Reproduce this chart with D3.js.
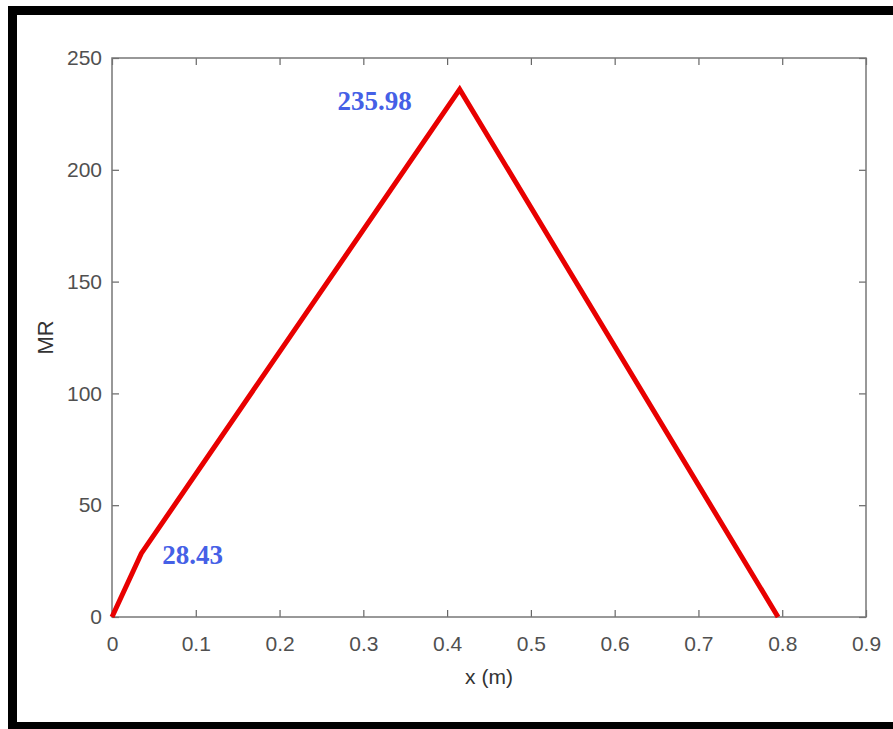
<!DOCTYPE html>
<html>
<head>
<meta charset="utf-8">
<script src="https://cdn.jsdelivr.net/npm/d3@7"></script>
<style>
  body { margin: 0; background: #fff; }
  .tick text { font-family: Arial, "Liberation Sans", sans-serif; font-size: 21px; fill: #505050; }
</style>
</head>
<body>
<div id="chart"></div>
<script>
// MR diagram data
const xValues = [0, 0.035, 0.415, 0.795];
const mrValues = [0, 28.43, 235.98, 0];
const xTicks = [0, 0.1, 0.2, 0.3, 0.4, 0.5, 0.6, 0.7, 0.8, 0.9];
const yTicks = [0, 50, 100, 150, 200, 250];
const labelIdx = [1, 2];  // points that get a value label

const W = 893, H = 729;
const margin = { top: 58, right: 27, bottom: 112, left: 112 },
    width = W - margin.left - margin.right,
    height = H - margin.top - margin.bottom;

const svg = d3.select("#chart").append("svg")
    .attr("width", W)
    .attr("height", H);

// outer black frame
svg.append("rect")
    .attr("x", 12.5).attr("y", 10.5)
    .attr("width", 900).attr("height", 716)
    .attr("fill", "none")
    .attr("stroke", "#000")
    .attr("stroke-width", 9);

const g = svg.append("g")
    .attr("transform", `translate(${margin.left},${margin.top})`);

const x = d3.scaleLinear().domain([0, 0.9]).range([0, width]);
const y = d3.scaleLinear().domain([0, 250]).range([height, 0]);

const fmt = d => d === 0 ? "0" : d3.format(".1f")(d);

// axes, ticks pointing inward like matlab
function styleAxis(sel) {
    sel.select(".domain").remove();
    sel.selectAll(".tick line").attr("stroke", "#666").attr("stroke-width", 1.2);
}

g.append("g")
    .attr("transform", `translate(0,${height})`)
    .call(d3.axisBottom(x).tickValues(xTicks).tickFormat(fmt).tickSizeInner(-7).tickPadding(19))
    .call(styleAxis);

g.append("g")
    .call(d3.axisTop(x).tickValues(xTicks).tickFormat("").tickSizeInner(-7))
    .call(styleAxis);

g.append("g")
    .call(d3.axisLeft(y).tickValues(yTicks).tickSizeInner(-7).tickPadding(10))
    .call(styleAxis);

g.append("g")
    .attr("transform", `translate(${width},0)`)
    .call(d3.axisRight(y).tickValues(yTicks).tickFormat("").tickSizeInner(-7))
    .call(styleAxis);

// box
g.append("rect")
    .attr("width", width).attr("height", height)
    .attr("fill", "none")
    .attr("stroke", "#777")
    .attr("stroke-width", 1.5);

// axis titles
g.append("text")
    .attr("x", width / 2).attr("y", height + 67)
    .attr("text-anchor", "middle")
    .style("font-family", "Arial, 'Liberation Sans', sans-serif")
    .style("font-size", "21px")
    .style("fill", "#333")
    .text("x (m)");

g.append("text")
    .attr("transform", `translate(${-59},${height / 2}) rotate(-90)`)
    .attr("text-anchor", "middle")
    .style("font-family", "Arial, 'Liberation Sans', sans-serif")
    .style("font-size", "22px")
    .style("fill", "#333")
    .text("MR");

// the MR line
const data = xValues.map((d, i) => ({ x: d, v: mrValues[i] }));
const line = d3.line().x(d => x(d.x)).y(d => y(d.v));

g.append("path")
    .datum(data)
    .attr("d", line)
    .attr("fill", "none")
    .attr("stroke", "#e80000")
    .attr("stroke-width", 5)
    .attr("stroke-linejoin", "miter");

// value labels
const labelOffsets = { 1: { dx: 21, dy: 11, anchor: "start" }, 2: { dx: -48, dy: 21, anchor: "end" } };
labelIdx.forEach(i => {
    const o = labelOffsets[i];
    g.append("text")
        .attr("x", x(data[i].x) + o.dx)
        .attr("y", y(data[i].v) + o.dy)
        .attr("text-anchor", o.anchor)
        .style("font-family", "'Liberation Serif', 'Times New Roman', serif")
        .style("font-weight", "bold")
        .style("font-size", "27px")
        .style("fill", "#4560e6")
        .text(data[i].v.toFixed(2));
});
</script>
</body>
</html>
